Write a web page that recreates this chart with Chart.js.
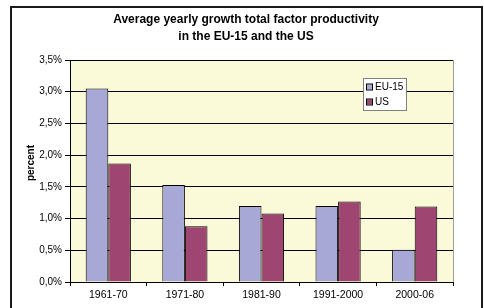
<!DOCTYPE html>
<html lang="en">
<head>
  <meta charset="UTF-8">
  <title>Average yearly growth total factor productivity</title>
  <script src="https://cdn.jsdelivr.net/npm/chart.js"></script>
  <style>
    body { margin: 0; background: #fff; font-family: 'Liberation Sans', Arial, sans-serif; }
    .wrap { position: relative; width: 484px; height: 308px; overflow: hidden; }
    .frame { position: absolute; left: 10px; top: 6px; width: 469px; height: 320px; border: 2px solid #1a1a1a; }
    canvas { position: absolute; left: 0; top: 0; }
  </style>
</head>
<body>
  <div class="wrap">
    <div class="frame"></div>
    <canvas id="tfpChart" width="484" height="308"></canvas>
  </div>

  <script>
    const periods = ['1961-70', '1971-80', '1981-90', '1991-2000', '2000-06'];
    const euValues = [3.05, 1.53, 1.20, 1.20, 0.51];
    const usValues = [1.87, 0.88, 1.08, 1.27, 1.19];
    const seriesNames = ['EU-15', 'US'];
    const titleLines = ['Average yearly growth total factor productivity', 'in the EU-15 and the US'];
    const yAxisTitle = 'percent';

    const FONT = "'Liberation Sans', Arial, sans-serif";

    // yellow plot background + grey right edge
    const plotBackground = {
      id: 'plotBackground',
      beforeDraw(chart) {
        const { ctx, chartArea: a } = chart;
        ctx.save();
        ctx.fillStyle = '#fafad8';
        ctx.fillRect(a.left, a.top, a.right - a.left, a.bottom - a.top);
        ctx.strokeStyle = '#a0a0a0';
        ctx.lineWidth = 1;
        ctx.beginPath();
        ctx.moveTo(a.right + 0.5, a.top);
        ctx.lineTo(a.right + 0.5, a.bottom);
        ctx.stroke();
        ctx.restore();
      }
    };

    // title, axis title and floating legend box
    const decorations = {
      id: 'decorations',
      afterDraw(chart) {
        const { ctx } = chart;
        ctx.save();
        ctx.fillStyle = '#000';
        ctx.textAlign = 'center';
        ctx.textBaseline = 'middle';
        ctx.font = 'bold 12px ' + FONT;
        ctx.fillText(titleLines[0], 246, 20);
        ctx.fillText(titleLines[1], 246, 37);

        ctx.save();
        ctx.translate(31, 163);
        ctx.rotate(-Math.PI / 2);
        ctx.font = 'bold 10px ' + FONT;
        ctx.fillText(yAxisTitle, 0, 0);
        ctx.restore();

        // legend
        const x = 363, y = 78, w = 43, h = 32;
        ctx.fillStyle = '#ffffff';
        ctx.fillRect(x, y, w, h);
        ctx.strokeStyle = '#808080';
        ctx.lineWidth = 1;
        ctx.strokeRect(x + 0.5, y + 0.5, w, h);
        ctx.font = '10px ' + FONT;
        ctx.textAlign = 'left';
        chart.data.datasets.forEach((ds, i) => {
          const cy = y + 9 + i * 15;
          ctx.fillStyle = ds.backgroundColor;
          ctx.fillRect(x + 4, cy - 2.5, 5, 5);
          ctx.strokeStyle = '#000';
          ctx.strokeRect(x + 3.5, cy - 3, 6, 6);
          ctx.fillStyle = '#000';
          ctx.fillText(ds.label, x + 12, cy + 0.5);
        });
        ctx.restore();
      }
    };

    new Chart(document.getElementById('tfpChart'), {
      type: 'bar',
      data: {
        labels: periods,
        datasets: [
          { label: seriesNames[0], data: euValues, backgroundColor: '#a8a8d6', borderColor: '#000', borderWidth: 1 },
          { label: seriesNames[1], data: usValues, backgroundColor: '#9f4571', borderColor: '#000', borderWidth: 1 }
        ]
      },
      options: {
        responsive: false,
        animation: false,
        layout: { padding: { top: 60, right: 31, left: 0, bottom: 0 } },
        datasets: { bar: { categoryPercentage: 0.59, barPercentage: 1 } },
        plugins: {
          legend: { display: false },
          title: { display: false },
          tooltip: { enabled: false }
        },
        scales: {
          x: {
            grid: { drawOnChartArea: false, drawTicks: true, tickLength: 4, color: '#000', offset: true },
            border: { color: '#000' },
            ticks: { color: '#000', font: { family: FONT, size: 10.5 }, padding: 3, maxRotation: 0 },
            afterFit(scale) { scale.height = 26; }
          },
          y: {
            min: 0,
            max: 3.5,
            ticks: {
              stepSize: 0.5,
              color: '#000',
              font: { family: FONT, size: 10 },
              padding: 3,
              callback: v => v.toFixed(1).replace('.', ',') + '%'
            },
            grid: { color: '#000', tickLength: 5 },
            border: { color: '#000' },
            afterFit(scale) { scale.width = 70; }
          }
        }
      },
      plugins: [plotBackground, decorations]
    });
  </script>
</body>
</html>
